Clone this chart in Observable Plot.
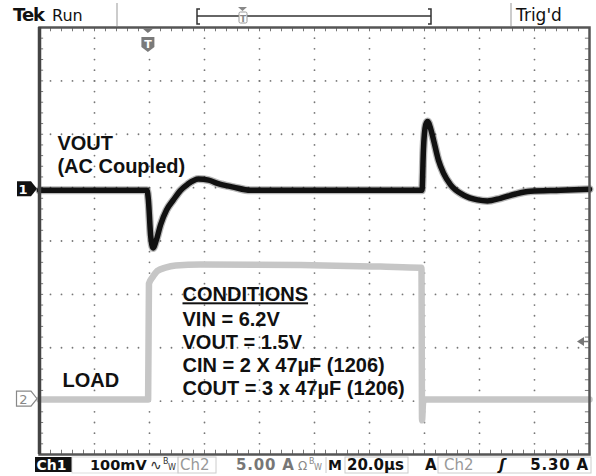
<!DOCTYPE html>
<html><head><meta charset="utf-8">
<script src="https://cdn.jsdelivr.net/npm/d3@7"></script>
<script src="https://cdn.jsdelivr.net/npm/@observablehq/plot@0.6"></script>
<style>html,body{margin:0;padding:0;background:#fff;} svg{display:block}</style>
</head><body><div id="chart"></div>
<script>
// Ch1: VOUT (AC coupled), time in µs, value in mV (100 mV/div)
const voutT  = [0, 39.1, 39.6, 40.4, 41.3, 42.5, 44, 46.2, 48.7, 51.3, 53.8, 57.8, 61.5, 64.7, 70.5, 76.7, 95, 138.5, 139.1, 139.6, 140.4, 141.1, 142.2, 143.3, 145.1, 146.9, 149.5, 154.2, 159.3, 162.9, 167.6, 173.1, 178.5, 189.5, 200];
const voutMv = [-5, -5, -23, -89, -113, -98, -70, -42, -23, -5, 6, 16, 14, 8, 1, -5, -5, -5, -5, 70, 117, 124, 111, 89, 51, 27, 5, -14, -23, -25, -20, -12, -7, -5, -3];
// Ch2: LOAD current, time in µs, value in A (5 A/div)
const loadT = [0, 39.5, 39.8, 41.1, 42.9, 45.8, 49.5, 58.5, 95, 124, 138.5, 138.9, 139.1, 139.5, 140.4, 200];
const loadA = [0.15, 0.15, 11.0, 11.6, 12.2, 12.5, 12.7, 12.8, 12.75, 12.6, 12.5, 12.5, -1.8, -0.1, 0.15, 0.15];
// channel settings
const ch1VoltsPerDiv = 100, ch1Offset = 1;   // ground marker one division above centre
const ch2AmpsPerDiv = 5, ch2Offset = -3;     // ground marker three divisions below centre
const triggerT = 39.6, triggerLevelA = 5.30;
// texts
const voutLabel = ["VOUT", "(AC Coupled)"];
const loadLabel = "LOAD";
const condTitle = "CONDITIONS";
const condLines = ["VIN = 6.2V", "VOUT = 1.5V", "CIN = 2 X 47µF (1206)", "COUT = 3 x 47µF (1206)"];

const vout = voutT.map((t, i) => ({t, v: ch1Offset + voutMv[i] / ch1VoltsPerDiv}));
const load = loadT.map((t, i) => ({t, v: ch2Offset + loadA[i] / ch2AmpsPerDiv}));

// graticule
const majorT = d3.range(20, 200, 20);
const minorDiv = d3.range(-4, 4.001, 0.2).filter(v => Math.abs(v) < 3.99);
const majorDiv = d3.range(-3, 4, 1);
const minorT = d3.range(4, 200, 4);
const gridDots = [
  ...majorT.flatMap(t => minorDiv.map(v => ({t, v}))),
  ...majorDiv.flatMap(v => minorT.map(t => ({t, v})))
];

const font = "'Liberation Sans', Arial, sans-serif";
const plot = Plot.plot({
  width: 596, height: 476,
  marginLeft: 39, marginRight: 7, marginTop: 27, marginBottom: 22,
  x: {domain: [0, 200], axis: null},
  y: {domain: [-4, 4], axis: null},
  style: {fontFamily: font, background: "white", overflow: "visible"},
  marks: [
    Plot.dot(gridDots, {x: "t", y: "v", r: 0.9, fill: "#777", stroke: null}),
    Plot.ruleX(minorT, {x: d => d, y1: 4, y2: 3.92, stroke: "#777", strokeWidth: 1}),
    Plot.ruleX(minorT, {x: d => d, y1: -4, y2: -3.92, stroke: "#777", strokeWidth: 1}),
    Plot.ruleY(minorDiv, {y: d => d, x1: 0, x2: 1.5, stroke: "#777", strokeWidth: 1}),
    Plot.ruleY(minorDiv, {y: d => d, x1: 200, x2: 198.5, stroke: "#777", strokeWidth: 1}),
    // LOAD trace
    Plot.line(load, {x: "t", y: "v", stroke: "#c6c6c6", strokeWidth: 6.5, curve: "monotone-x"}),
    // VOUT trace (noise envelope + core)
    Plot.line(vout, {x: "t", y: "v", stroke: "#111", strokeWidth: 8, strokeOpacity: 0.3, curve: "monotone-x"}),
    Plot.line(vout, {x: "t", y: "v", stroke: "#111", strokeWidth: 5.5, curve: "monotone-x"}),
    // labels
    Plot.text([voutLabel.join("\n")], {x: 6.5, y: 1.27, text: d => d, textAnchor: "start", lineAnchor: "bottom", lineHeight: 1.15, fontSize: 20, fontWeight: "bold", fill: "#111"}),
    Plot.text([loadLabel], {x: 8.4, y: -2.74, text: d => d, textAnchor: "start", lineAnchor: "bottom", fontSize: 20, fontWeight: "bold", fill: "#111"}),
    Plot.text([condTitle], {x: 52, y: -1.13, text: d => d, textAnchor: "start", lineAnchor: "bottom", fontSize: 20, fontWeight: "bold", fill: "#111"}),
    Plot.text([condLines.join("\n")], {x: 52, y: -2.89, text: d => d, textAnchor: "start", lineAnchor: "bottom", lineHeight: 1.15, fontSize: 20, fontWeight: "bold", fill: "#111"}),
    Plot.frame({stroke: "#555", strokeWidth: 2.5}),
    Plot.ruleX([0], {stroke: "#444", strokeWidth: 3.5})
  ]
});
document.getElementById("chart").appendChild(plot);

// underline the CONDITIONS heading
d3.select(plot).selectAll("text").filter(function() { return this.textContent === condTitle; })
  .style("text-decoration", "underline");

const sx = plot.scale("x").apply, sy = plot.scale("y").apply;
const svg = d3.select(plot);
const sfont = "'DejaVu Sans', sans-serif";

// ---- top status bar ----
const topBar = svg.append("g").attr("text-anchor", "start").attr("font-family", sfont);
topBar.append("text").attr("x", 13).attr("y", 21).attr("font-weight", "bold").attr("font-size", 18).attr("letter-spacing", -1).attr("fill", "#111").text("Tek");
topBar.append("text").attr("x", 52).attr("y", 21).attr("font-size", 16).attr("fill", "#111").text("Run");
topBar.append("line").attr("x1", 117).attr("x2", 117).attr("y1", 3).attr("y2", 26).attr("stroke", "#999");
topBar.append("path").attr("d", "M200,9H197V24H200").attr("fill", "none").attr("stroke", "#333").attr("stroke-width", 1.5);
topBar.append("path").attr("d", "M428,9H431V24H428").attr("fill", "none").attr("stroke", "#333").attr("stroke-width", 1.5);
topBar.append("line").attr("x1", 197).attr("x2", 431).attr("y1", 16).attr("y2", 16).attr("stroke", "#333").attr("stroke-width", 1.3);
topBar.append("path").attr("d", "M238,7H247L242.5,11Z").attr("fill", "#888");
topBar.append("rect").attr("x", 239).attr("y", 12).attr("width", 8).attr("height", 11).attr("rx", 1.5).attr("fill", "#fff").attr("stroke", "#999");
topBar.append("text").attr("x", 243).attr("y", 21.5).attr("text-anchor", "middle").attr("font-size", 9).attr("font-weight", "bold").attr("fill", "#888").text("T");
topBar.append("line").attr("x1", 511).attr("x2", 511).attr("y1", 3).attr("y2", 26).attr("stroke", "#999");
topBar.append("text").attr("x", 516).attr("y", 21).attr("font-size", 17).attr("fill", "#111").text("Trig'd");

// trigger position marker
const tx = sx(triggerT);
svg.append("path").attr("d", `M${tx-6},28H${tx+6}L${tx},33Z`).attr("fill", "#777");
svg.append("path").attr("d", `M${tx-6.5},37H${tx+6.5}V47L${tx},52L${tx-6.5},47Z`).attr("fill", "#7a7a7a");
svg.append("text").attr("x", tx).attr("y", 48).attr("text-anchor", "middle").attr("font-family", sfont).attr("font-weight", "bold").attr("font-size", 11).attr("fill", "#fff").text("T");

// channel ground markers
const g1 = sy(ch1Offset) + 1.5;
svg.append("path").attr("d", `M17,${g1-7.5}H31L37,${g1}L31,${g1+7.5}H17Z`).attr("fill", "#111");
svg.append("text").attr("x", 23).attr("y", g1 + 5).attr("text-anchor", "middle").attr("font-family", sfont).attr("font-weight", "bold").attr("font-size", 13).attr("fill", "#fff").text("1");
const g2 = sy(ch2Offset) - 2;
svg.append("path").attr("d", `M16.5,${g2-7.5}H31L37,${g2}L31,${g2+7.5}H16.5Z`).attr("fill", "#fff").attr("stroke", "#888").attr("stroke-width", 1.2);
svg.append("text").attr("x", 23.5).attr("y", g2 + 5).attr("text-anchor", "middle").attr("font-family", sfont).attr("font-size", 13).attr("fill", "#888").text("2");

// trigger level arrow (right edge)
const ty = sy(ch2Offset + triggerLevelA / ch2AmpsPerDiv) - 2.5;
svg.append("path").attr("d", `M577,${ty}L584,${ty-4.5}V${ty+4.5}Z`).attr("fill", "#777");
svg.append("line").attr("x1", 584).attr("x2", 589).attr("y1", ty).attr("y2", ty).attr("stroke", "#777").attr("stroke-width", 1.5);

// ---- bottom status bar ----
const bot = svg.append("g").attr("text-anchor", "start").attr("font-family", sfont).attr("font-size", 15).attr("font-weight", "bold");
const by = 469.5;
bot.append("rect").attr("x", 35).attr("y", 457).attr("width", 37).attr("height", 15).attr("fill", "#111");
bot.append("text").attr("x", 36.5).attr("y", by).attr("font-size", 14).attr("fill", "#fff").text("Ch1");
bot.append("rect").attr("x", 72).attr("y", 457).attr("width", 106).attr("height", 16).attr("fill", "none").attr("stroke", "#ddd");
bot.append("text").attr("x", 90).attr("y", by).attr("font-size", 14.5).attr("fill", "#111").text("100mV");
bot.append("text").attr("x", 150).attr("y", by).attr("font-weight", "normal").attr("font-size", 14).attr("fill", "#333").text("∿");
bot.append("text").attr("x", 163).attr("y", 464).attr("font-size", 8).attr("font-weight", "normal").attr("fill", "#333").text("B");
bot.append("text").attr("x", 168).attr("y", by).attr("font-size", 8).attr("font-weight", "normal").attr("fill", "#333").text("W");
bot.append("rect").attr("x", 178).attr("y", 457).attr("width", 38).attr("height", 16).attr("fill", "none").attr("stroke", "#ccc");
bot.append("text").attr("x", 180).attr("y", by).attr("font-weight", "normal").attr("fill", "#999").text("Ch2");
bot.append("text").attr("x", 236).attr("y", by).attr("letter-spacing", 0.8).attr("fill", "#777").text("5.00 A");
bot.append("text").attr("x", 298).attr("y", by).attr("font-weight", "normal").attr("font-size", 12).attr("fill", "#888").text("Ω");
bot.append("text").attr("x", 309).attr("y", 464).attr("font-size", 8).attr("font-weight", "normal").attr("fill", "#888").text("B");
bot.append("text").attr("x", 314).attr("y", by).attr("font-size", 8).attr("font-weight", "normal").attr("fill", "#888").text("W");
bot.append("line").attr("x1", 326).attr("x2", 326).attr("y1", 457).attr("y2", 473).attr("stroke", "#ccc");
bot.append("text").attr("x", 328).attr("y", by).attr("font-size", 14).attr("fill", "#111").text("M");
bot.append("rect").attr("x", 345).attr("y", 457).attr("width", 63).attr("height", 16).attr("fill", "none").attr("stroke", "#ccc");
bot.append("text").attr("x", 347).attr("y", by).attr("fill", "#111").text("20.0µs");
bot.append("text").attr("x", 425).attr("y", by).attr("fill", "#111").text("A");
bot.append("rect").attr("x", 438).attr("y", 457).attr("width", 153).attr("height", 16).attr("fill", "none").attr("stroke", "#ccc");
bot.append("text").attr("x", 444).attr("y", by).attr("font-weight", "normal").attr("fill", "#999").text("Ch2");
bot.append("text").attr("x", 499).attr("y", by).attr("font-style", "italic").attr("fill", "#111").text("ʃ");
bot.append("text").attr("x", 589).attr("y", by).attr("text-anchor", "end").attr("letter-spacing", 0.8).attr("fill", "#111").text(triggerLevelA.toFixed(2) + " A");
</script>
</body></html>
